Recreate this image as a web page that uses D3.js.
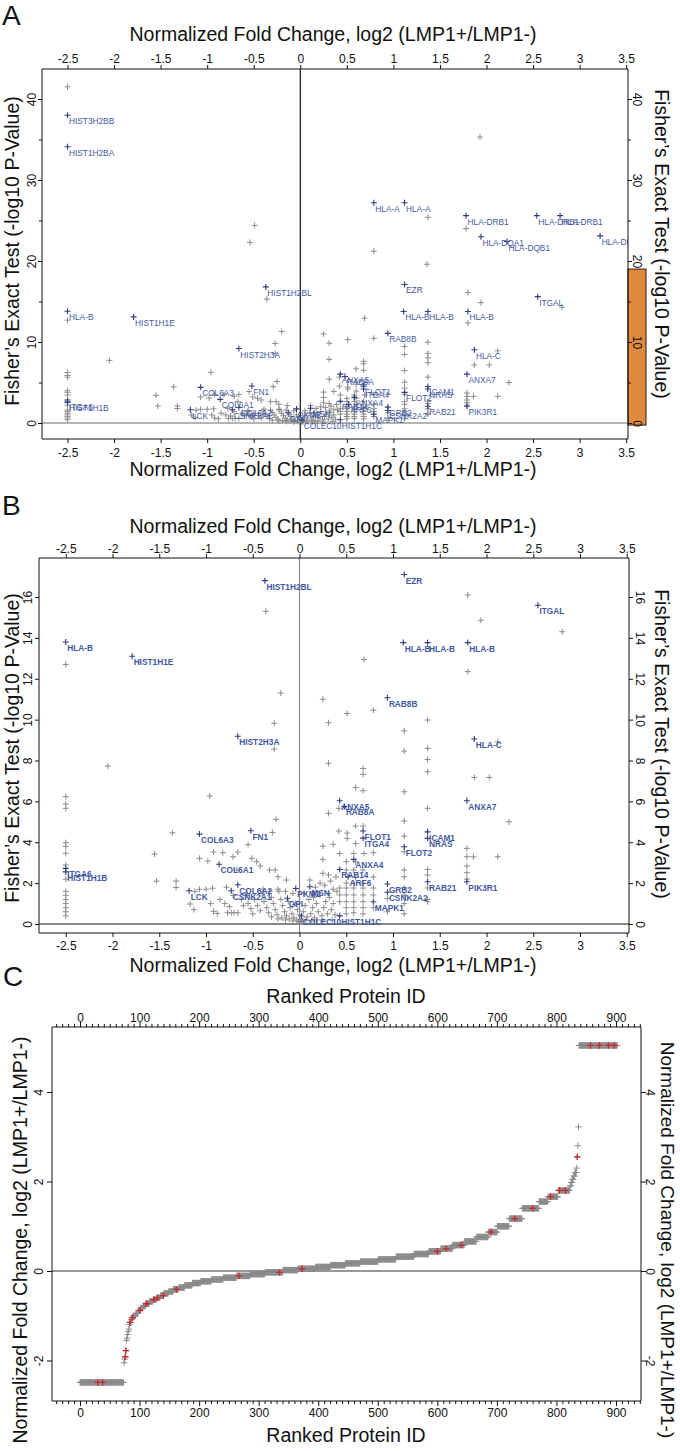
<!DOCTYPE html>
<html><head><meta charset="utf-8">
<script src="https://cdn.jsdelivr.net/npm/d3@7"></script>
<style>body{margin:0;background:#fff}svg{display:block}</style>
</head><body><svg id="c" width="680" height="1451"></svg>
<script>
// ---------------- DATA ----------------
const foldTicks = [-2.5,-2,-1.5,-1,-0.5,0,0.5,1,1.5,2,2.5,3,3.5];
const pvalTicksA = [0,10,20,30,40];
const pvalMinorA = [5,15,25,35];
const pvalTicksB = [0,2,4,6,8,10,12,14,16];
const rankTicks = [0,100,200,300,400,500,600,700,800,900];
const rankMinor = [-40,-30,-20,-10,10,20,30,40,50,60,70,80,90,110,120,130,140,150,160,170,180,190,210,220,230,240,250,260,270,280,290,310,320,330,340,350,360,370,380,390,410,420,430,440,450,460,470,480,490,510,520,530,540,550,560,570,580,590,610,620,630,640,650,660,670,680,690,710,720,730,740,750,760,770,780,790,810,820,830,840,850,860,870,880,890,910,920,930,940];
const fcTicks = [-2,0,2,4];

// unlabeled proteins: [log2 fold change, -log10 p]
const grayProteins = [
 [-2.5,41.5],[1.93,35.3],[1.37,25.4],[1.78,24.0],[-0.49,24.4],[-0.54,22.3],[0.79,21.2],[1.36,19.6],
 [-2.5,12.7],[-0.36,15.3],[1.8,16.1],[1.94,14.86],[2.81,14.3],[0.69,12.94],[1.8,12.35],
 [-0.2,11.3],[0.25,11.0],[0.31,9.85],[-0.27,9.82],[-0.27,8.56],[0.31,7.86],[-2.05,7.73],
 [0.51,10.3],[0.79,10.46],[1.37,9.98],[1.12,9.45],[2.12,8.91],[1.12,8.46],[1.37,8.59],[1.37,8.05],[1.37,7.45],
 [0.68,7.61],[0.68,7.32],[1.87,7.17],[2.03,7.17],[0.6,6.68],[0.68,6.52],[1.12,6.47],[1.37,5.66],[2.24,5.0],[1.12,5.04],
 [-0.96,6.26],[-1.36,4.46],[-0.25,5.12],[-0.29,4.48],[-0.55,3.88],[-1.55,3.42],[-0.92,3.52],[-0.82,3.49],[-0.71,3.29],
 [-0.66,3.52],[-1.07,3.21],[-0.98,3.08],[-0.51,3.21],[-0.46,3.05],[-0.42,2.84],[-0.67,2.64],[-0.32,2.64],[-0.26,2.64],
 [-0.23,2.31],[-0.14,2.15],[-1.53,2.1],[-1.32,2.1],[-1.32,1.79],
 [-2.5,6.23],[-2.5,5.87],[-2.5,5.66],[-2.5,3.98],[-2.5,3.79],[-2.5,3.46],[-2.5,2.89],[-2.5,2.19],[-2.5,1.6],[-2.5,1.4],
 [-2.5,1.2],[-2.5,1.0],[-2.5,0.8],[-2.5,0.6],[-2.5,0.4],
 [0.25,3.81],[0.36,3.9],[0.25,3.16],[0.25,2.48],[0.31,2.4],[0.31,5.41],[0.42,4.55],[0.42,5.66],[0.43,3.45],
 [0.51,4.45],[0.6,4.79],[0.68,4.79],[0.51,4.19],[0.6,3.94],[0.58,3.45],[0.69,3.45],[0.79,3.49],[1.12,4.3],[1.12,3.54],
 [1.79,3.7],[1.79,3.29],[1.86,3.29],[2.12,3.29],[1.79,2.84],[1.79,2.51],[1.37,2.67],[1.37,2.4],[1.12,2.64],[1.12,2.31],
 [0.5,3.05],[0.6,3.05],[0.5,2.64],[0.58,2.64],[0.68,2.64],[0.79,2.3],[0.6,2.3],[0.68,2.0],[0.5,2.0],[0.58,2.0],
 [0.79,1.76],[0.43,1.76],[0.5,1.76],[0.58,1.76],[0.68,1.76],[1.12,1.76],[1.37,1.76],[0.43,1.42],[0.5,1.42],[0.58,1.42],
 [0.68,1.42],[0.79,1.42],[1.12,1.42],[0.43,1.09],[0.5,1.09],[0.58,1.09],[0.68,1.09],[1.37,1.09],[0.5,0.8],[0.58,0.8],
 [0.68,0.8],[0.79,0.8],[0.94,0.6],[1.12,1.0],[1.37,1.2],[0.5,0.5],[0.58,0.55],[0.68,0.5],[1.12,0.5],[0.94,1.25],[1.79,2.2],
 [0.02,0.25],[0.04,0.6],[0.06,0.9],[0.08,0.35],[0.1,1.2],[0.12,0.5],[0.14,0.8],[0.16,0.3],[0.18,1.0],[0.2,0.6],
 [0.22,1.4],[0.24,0.4],[0.26,0.8],[0.28,1.1],[0.3,0.5],[0.32,1.3],[0.34,0.7],[0.36,1.0],[0.38,0.45],[0.4,1.6],
 [0.11,2.15],[0.17,1.8],[0.22,2.0],[0.31,1.5],[0.36,1.7],[0.05,1.5],[0.15,1.3],[0.27,1.9],[0.33,2.1],[0.39,2.3],
 [0.01,0.1],[0.03,0.15],[0.07,0.2],[0.13,0.15],[0.19,0.2],[0.25,0.15],[0.35,0.2],[-0.01,0.12],[-0.03,0.2],[-0.07,0.15],
 [-0.11,0.25],[-0.15,0.2],[-0.19,0.3],[-0.23,0.25],[-0.3,0.35],
 [-1.17,0.98],[-1.13,0.7],[-0.95,1.0],[-0.92,0.62],[-0.88,0.52],[-0.77,0.55],[-0.73,0.55],[-0.70,0.55],[-0.66,0.55],
 [-0.62,1.2],[-0.6,0.9],[-0.57,1.4],[-0.55,1.0],[-0.52,0.75],[-0.5,0.5],[-0.48,1.2],[-0.45,0.9],[-0.42,0.65],[-0.40,1.5],
 [-0.38,1.1],[-0.35,0.8],[-0.33,0.55],[-0.3,1.3],[-0.28,1.0],[-0.26,0.7],[-0.24,0.45],[-0.22,1.6],[-0.2,1.2],[-0.18,0.9],
 [-0.16,0.6],[-0.14,0.4],[-0.12,1.1],[-0.1,0.8],[-0.08,0.5],[-0.06,0.3],[-0.04,1.0],[-0.02,0.7],[0,0.45],
 [-1.12,1.6],[-1.07,1.7],[-1.0,1.7],[-0.93,1.75],[-0.78,1.8],[-0.71,1.4],[-0.56,1.5],[-0.39,1.7],[-0.32,1.6],[-0.23,1.7],
 [-0.15,1.6],[-0.07,1.5],[-0.85,1.2],[-0.8,1.0],[-0.75,0.85]
];

// labeled proteins: [log2 fold change, -log10 p, gene]
const labeledProteins = [
 [-2.5,38.0,"HIST3H2BB"],[-2.5,34.1,"HIST1H2BA"],[0.79,27.2,"HLA-A"],[1.12,27.2,"HLA-A"],
 [1.78,25.6,"HLA-DRB1"],[2.54,25.6,"HLA-DRB1"],[2.79,25.6,"HLA-DRB1"],[1.94,23.0,"HLA-DQA1"],[2.22,22.4,"HLA-DQB1"],
 [3.22,23.1,"HLA-DRB1"],
 [-0.37,16.8,"HIST1H2BL"],[1.12,17.1,"EZR"],[2.55,15.6,"ITGAL"],[-2.5,13.8,"HLA-B"],[1.11,13.77,"HLA-B"],
 [1.37,13.77,"HLA-B"],[1.8,13.77,"HLA-B"],[-1.79,13.1,"HIST1H1E"],[0.94,11.07,"RAB8B"],[-0.66,9.19,"HIST2H3A"],
 [1.87,9.05,"HLA-C"],[1.79,6.03,"ANXA7"],[0.43,6.03,"ANXA5"],[0.48,5.75,"RAB8A"],[-1.07,4.4,"COL6A3"],
 [-0.52,4.56,"FN1"],[-0.86,2.92,"COL6A1"],[0.68,4.55,"FLOT1"],[0.68,4.2,"ITGA4"],[1.37,4.51,"ICAM1"],
 [1.37,4.19,"NRAS"],[1.12,3.78,"FLOT2"],[0.58,3.16,"ANXA4"],[-2.5,2.72,"ITGA6"],[-2.5,2.55,"HIST1H1B"],
 [0.43,2.67,"RAB14"],[0.52,2.31,"ARF6"],[1.37,2.07,"RAB21"],[1.79,2.07,"PIK3R1"],[0.94,1.96,"GRB2"],
 [0.94,1.55,"CSNK2A2"],[0.79,1.09,"MAPK1"],[-0.66,1.92,"COL6A2"],[-1.18,1.63,"LCK"],[-0.73,1.63,"CSNK2A1"],
 [-0.04,1.74,"PKM2"],[0.11,1.82,"MSN"],[-0.13,1.26,"GPI"],[0.02,0.39,"COLEC10"],[0.43,0.4,"HIST1H1C"]
];

// ranked proteins, runs of equal fold change: [first rank, last rank, log2 fold change]
const rankRuns = [
 [0,73,-2.49],[74,74,-2.05],[75,75,-1.97],[76,76,-1.92],[77,77,-1.78],[78,78,-1.55],[79,79,-1.5],[80,80,-1.42],
 [81,81,-1.35],[82,82,-1.3],[83,83,-1.2],[84,85,-1.15],[86,87,-1.08],[88,89,-1.04],[90,93,-1.0],[94,97,-0.95],
 [98,101,-0.88],[102,105,-0.83],[106,110,-0.78],[111,116,-0.73],[117,122,-0.68],[123,128,-0.64],[129,134,-0.6],
 [135,140,-0.55],[141,148,-0.5],[149,156,-0.46],[157,165,-0.41],[166,175,-0.37],[176,188,-0.32],[189,202,-0.27],
 [203,220,-0.23],[221,240,-0.19],[241,262,-0.15],[263,285,-0.11],[286,310,-0.07],[311,340,-0.03],[341,365,0.02],
 [366,395,0.05],[396,420,0.09],[421,445,0.13],[446,470,0.17],[471,500,0.21],[501,530,0.26],[531,560,0.32],
 [561,585,0.38],[586,605,0.44],[606,625,0.5],[626,645,0.58],[646,665,0.66],[666,685,0.76],[686,700,0.87],
 [701,720,1.0],[721,742,1.17],[743,770,1.4],[771,785,1.55],[786,802,1.66],[803,822,1.8],[823,824,1.9],
 [825,826,1.98],[827,828,2.05],[829,830,2.12],[831,833,2.2],[834,834,2.3],[835,835,2.55],[836,836,2.8],
 [837,837,3.22],[838,902,5.04]
];
// ranked proteins that carry a gene label: [rank, log2 fold change]
const labeledRanks = [
 [30,-2.49],[38,-2.49],[76,-1.92],[77,-1.78],[84,-1.15],[88,-1.04],[101,-0.88],[111,-0.73],[112,-0.73],
 [124,-0.64],[130,-0.6],[140,-0.55],[162,-0.41],[267,-0.11],[335,-0.03],[373,0.05],[600,0.44],[615,0.5],
 [640,0.58],[690,0.87],[730,1.17],[760,1.4],[790,1.66],[805,1.8],[815,1.8],[835,2.55],[857,5.04],[872,5.04],
 [887,5.04],[897,5.04]
];

// ---------------- DRAWING ----------------
const FONT = "'Liberation Sans', Arial, Helvetica, sans-serif";
const svg = d3.select("#c");
const GRAY = "#8c8c8c", BLUE = "#2d3d80", LBLUE = "#3f58a2", RED = "#d0262a";
const xTitle = "Normalized Fold Change, log2 (LMP1+/LMP1-)";
const yTitle = "Fisher\u2019s Exact Test (-log10 P-Value)";

function plusPath(x, y, s) { return `M${x - s},${y}h${2 * s}M${x},${y - s}v${2 * s}`; }

function axisX(g, scale, ticks, y, orient, size, pad, fmt) {
  const ax = (orient === "top" ? d3.axisTop(scale) : d3.axisBottom(scale))
    .tickValues(ticks).tickSize(size).tickPadding(pad).tickFormat(fmt);
  const a = g.append("g").attr("transform", `translate(0,${y})`).call(ax);
  a.select(".domain").remove();
  a.selectAll("line").attr("stroke", "#111");
  a.selectAll("text").attr("font-size", 12).attr("font-family", FONT).attr("fill", "#111");
  return a;
}
function axisY(g, scale, ticks, x, side, size, off, fmt) {
  const ax = (side === "left" ? d3.axisLeft(scale) : d3.axisRight(scale))
    .tickValues(ticks).tickSize(size).tickFormat(fmt);
  const a = g.append("g").attr("transform", `translate(${x},0)`).call(ax);
  a.select(".domain").remove();
  a.selectAll("line").attr("stroke", "#111");
  a.selectAll("text").attr("x", 0).attr("y", -off).attr("dy", null)
    .attr("text-anchor", "middle").attr("font-size", 12).attr("font-family", FONT).attr("fill", "#111")
    .attr("transform", side === "left" ? "rotate(-90)" : "rotate(90)");
  return a;
}
function frame(g, f) {
  g.append("path").attr("d", `M${f.L},${f.T}H${f.R}M${f.L},${f.B}H${f.R}M${f.L},${f.T}V${f.B}M${f.R},${f.T}V${f.B}`)
    .attr("stroke", "#111").attr("stroke-width", 1).attr("fill", "none");
}
function text(g, x, y, s, size, rot, anchor) {
  const t = g.append("text").attr("font-family", FONT).attr("font-size", size).attr("fill", "#111")
    .attr("text-anchor", anchor || "middle").text(s);
  t.attr("transform", `translate(${x},${y})` + (rot ? ` rotate(${rot})` : ""));
  return t;
}

function scatterPanel(o) {
  const g = svg.append("g");
  const f = o.frame;
  const x = d3.scaleLinear().domain([-2.5, 3.5]).range(o.xr);
  const y = d3.scaleLinear().domain([0, o.yRefVal]).range(o.yr);
  const cid = "clip" + o.id;
  svg.append("clipPath").attr("id", cid).append("rect")
    .attr("x", f.L).attr("y", f.T).attr("width", f.R - f.L).attr("height", f.B - f.T);

  if (o.highlight) {
    g.append("rect").attr("x", f.R).attr("width", 18)
      .attr("y", y(o.highlight[1])).attr("height", y(o.highlight[0]) - y(o.highlight[1]))
      .attr("fill", "#e0893c").attr("stroke", "#4b3524").attr("stroke-width", 1.2);
  }
  const inner = g.append("g").attr("clip-path", `url(#${cid})`);
  inner.append("line").attr("x1", f.L).attr("x2", f.R).attr("y1", y(0)).attr("y2", y(0))
    .attr("stroke", o.hColor).attr("stroke-width", 1.2);
  inner.append("line").attr("x1", x(0)).attr("x2", x(0)).attr("y1", f.T).attr("y2", f.B)
    .attr("stroke", o.vColor).attr("stroke-width", 1.2);

  inner.append("g").selectAll("path").data(grayProteins).join("path")
    .attr("d", d => plusPath(x(d[0]), y(d[1]), 3)).attr("stroke", GRAY).attr("stroke-width", 1).attr("fill", "none");
  inner.append("g").selectAll("path").data(labeledProteins).join("path")
    .attr("d", d => plusPath(x(d[0]), y(d[1]), 3)).attr("stroke", BLUE).attr("stroke-width", 1.1).attr("fill", "none");
  inner.append("g").selectAll("text").data(labeledProteins).join("text")
    .attr("x", d => x(d[0]) + 1.5).attr("y", d => y(d[1]) + 9)
    .attr("font-family", FONT).attr("font-size", 8.3).attr("font-weight", o.bold ? "bold" : "normal")
    .attr("fill", LBLUE).text(d => d[2]);

  frame(g, f);
  const fmt = d => String(d);
  axisX(g, x, foldTicks, f.T, "top", 4, o.padTop, fmt);
  axisX(g, x, foldTicks, f.B, "bottom", 4, o.padBot, fmt);
  axisY(g, y, o.yTicks, f.L, "left", 4, o.offL, fmt);
  axisY(g, y, o.yTicks, f.R, "right", 4, o.offR, fmt);
  if (o.yMinor) {
    axisY(g, y, o.yMinor, f.L, "left", 3, 6, () => "");
    axisY(g, y, o.yMinor, f.R, "right", 3, 6, () => "");
  }
  text(g, o.letter[1], o.letter[2], o.letter[0], 28, 0, "start");
  text(g, 333, o.titleTop, xTitle, 19.5);
  text(g, 333, o.titleBot, xTitle, 19.5);
  text(g, o.yTitleL[0], o.yTitleL[1], yTitle, 19.5, -90);
  text(g, o.yTitleR[0], o.yTitleR[1], yTitle, 19.5, 90);
}

// Panel A
scatterPanel({
  id: "A", frame: {L: 42, R: 628, T: 69, B: 439},
  xr: [67.5, 626.2], yRefVal: 40, yr: [423, 99],
  yTicks: pvalTicksA, yMinor: pvalMinorA, highlight: [-0.25, 19],
  hColor: "#6a6a6a", vColor: "#111", bold: false,
  padTop: 2, padBot: 5, offL: 6, offR: 5,
  letter: ["A", 2, 25], titleTop: 41, titleBot: 476,
  yTitleL: [19, 251], yTitleR: [655, 244]
});
// Panel B
scatterPanel({
  id: "B", frame: {L: 39, R: 629, T: 558, B: 933},
  xr: [65.75, 626.75], yRefVal: 16, yr: [924, 597],
  yTicks: pvalTicksB, yMinor: null, highlight: null,
  hColor: "#111", vColor: "#8a8a8a", bold: true,
  padTop: 1, padBot: 4, offL: 7, offR: 7,
  letter: ["B", 2, 515], titleTop: 533, titleBot: 972,
  yTitleL: [19, 748], yTitleR: [655, 744]
});

// Panel C
(function () {
  const g = svg.append("g");
  const f = {L: 52, R: 641, T: 1027, B: 1401};
  const x = d3.scaleLinear().domain([0, 900]).range([80, 616]);
  const y = d3.scaleLinear().domain([0, 4]).range([1271, 1092]);
  const pts = [];
  rankRuns.forEach(r => { for (let k = r[0]; k <= r[1]; k++) pts.push([k, r[2]]); });

  g.append("line").attr("x1", f.L).attr("x2", f.R).attr("y1", y(0)).attr("y2", y(0))
    .attr("stroke", "#333").attr("stroke-width", 1.2);
  g.append("g").selectAll("path").data(pts).join("path")
    .attr("d", d => plusPath(x(d[0]), y(d[1]), 3.2)).attr("stroke", "#8a8a8a").attr("stroke-width", 1).attr("fill", "none");
  g.append("g").selectAll("path").data(labeledRanks).join("path")
    .attr("d", d => plusPath(x(d[0]), y(d[1]), 3.2)).attr("stroke", RED).attr("stroke-width", 1.3).attr("fill", "none");

  frame(g, f);
  const fmt = d => String(d);
  axisX(g, x, rankTicks, f.T, "top", 5, 0, fmt);
  axisX(g, x, rankTicks, f.B, "bottom", 5, 2, fmt);
  axisX(g, x, rankMinor, f.T, "top", 3, 0, () => "");
  axisX(g, x, rankMinor, f.B, "bottom", 3, 0, () => "");
  axisY(g, y, fcTicks, f.L, "left", 5, 9, fmt);
  axisY(g, y, fcTicks, f.R, "right", 5, 5, fmt);
  text(g, 3, 986, "C", 28, 0, "start");
  text(g, 346, 1003, "Ranked Protein ID", 19.5);
  text(g, 346, 1442, "Ranked Protein ID", 19.5);
  text(g, 27, 1240, xTitle, 19.5, -90);
  text(g, 661, 1240, xTitle, 19, 90);
})();
</script>
</body></html>
